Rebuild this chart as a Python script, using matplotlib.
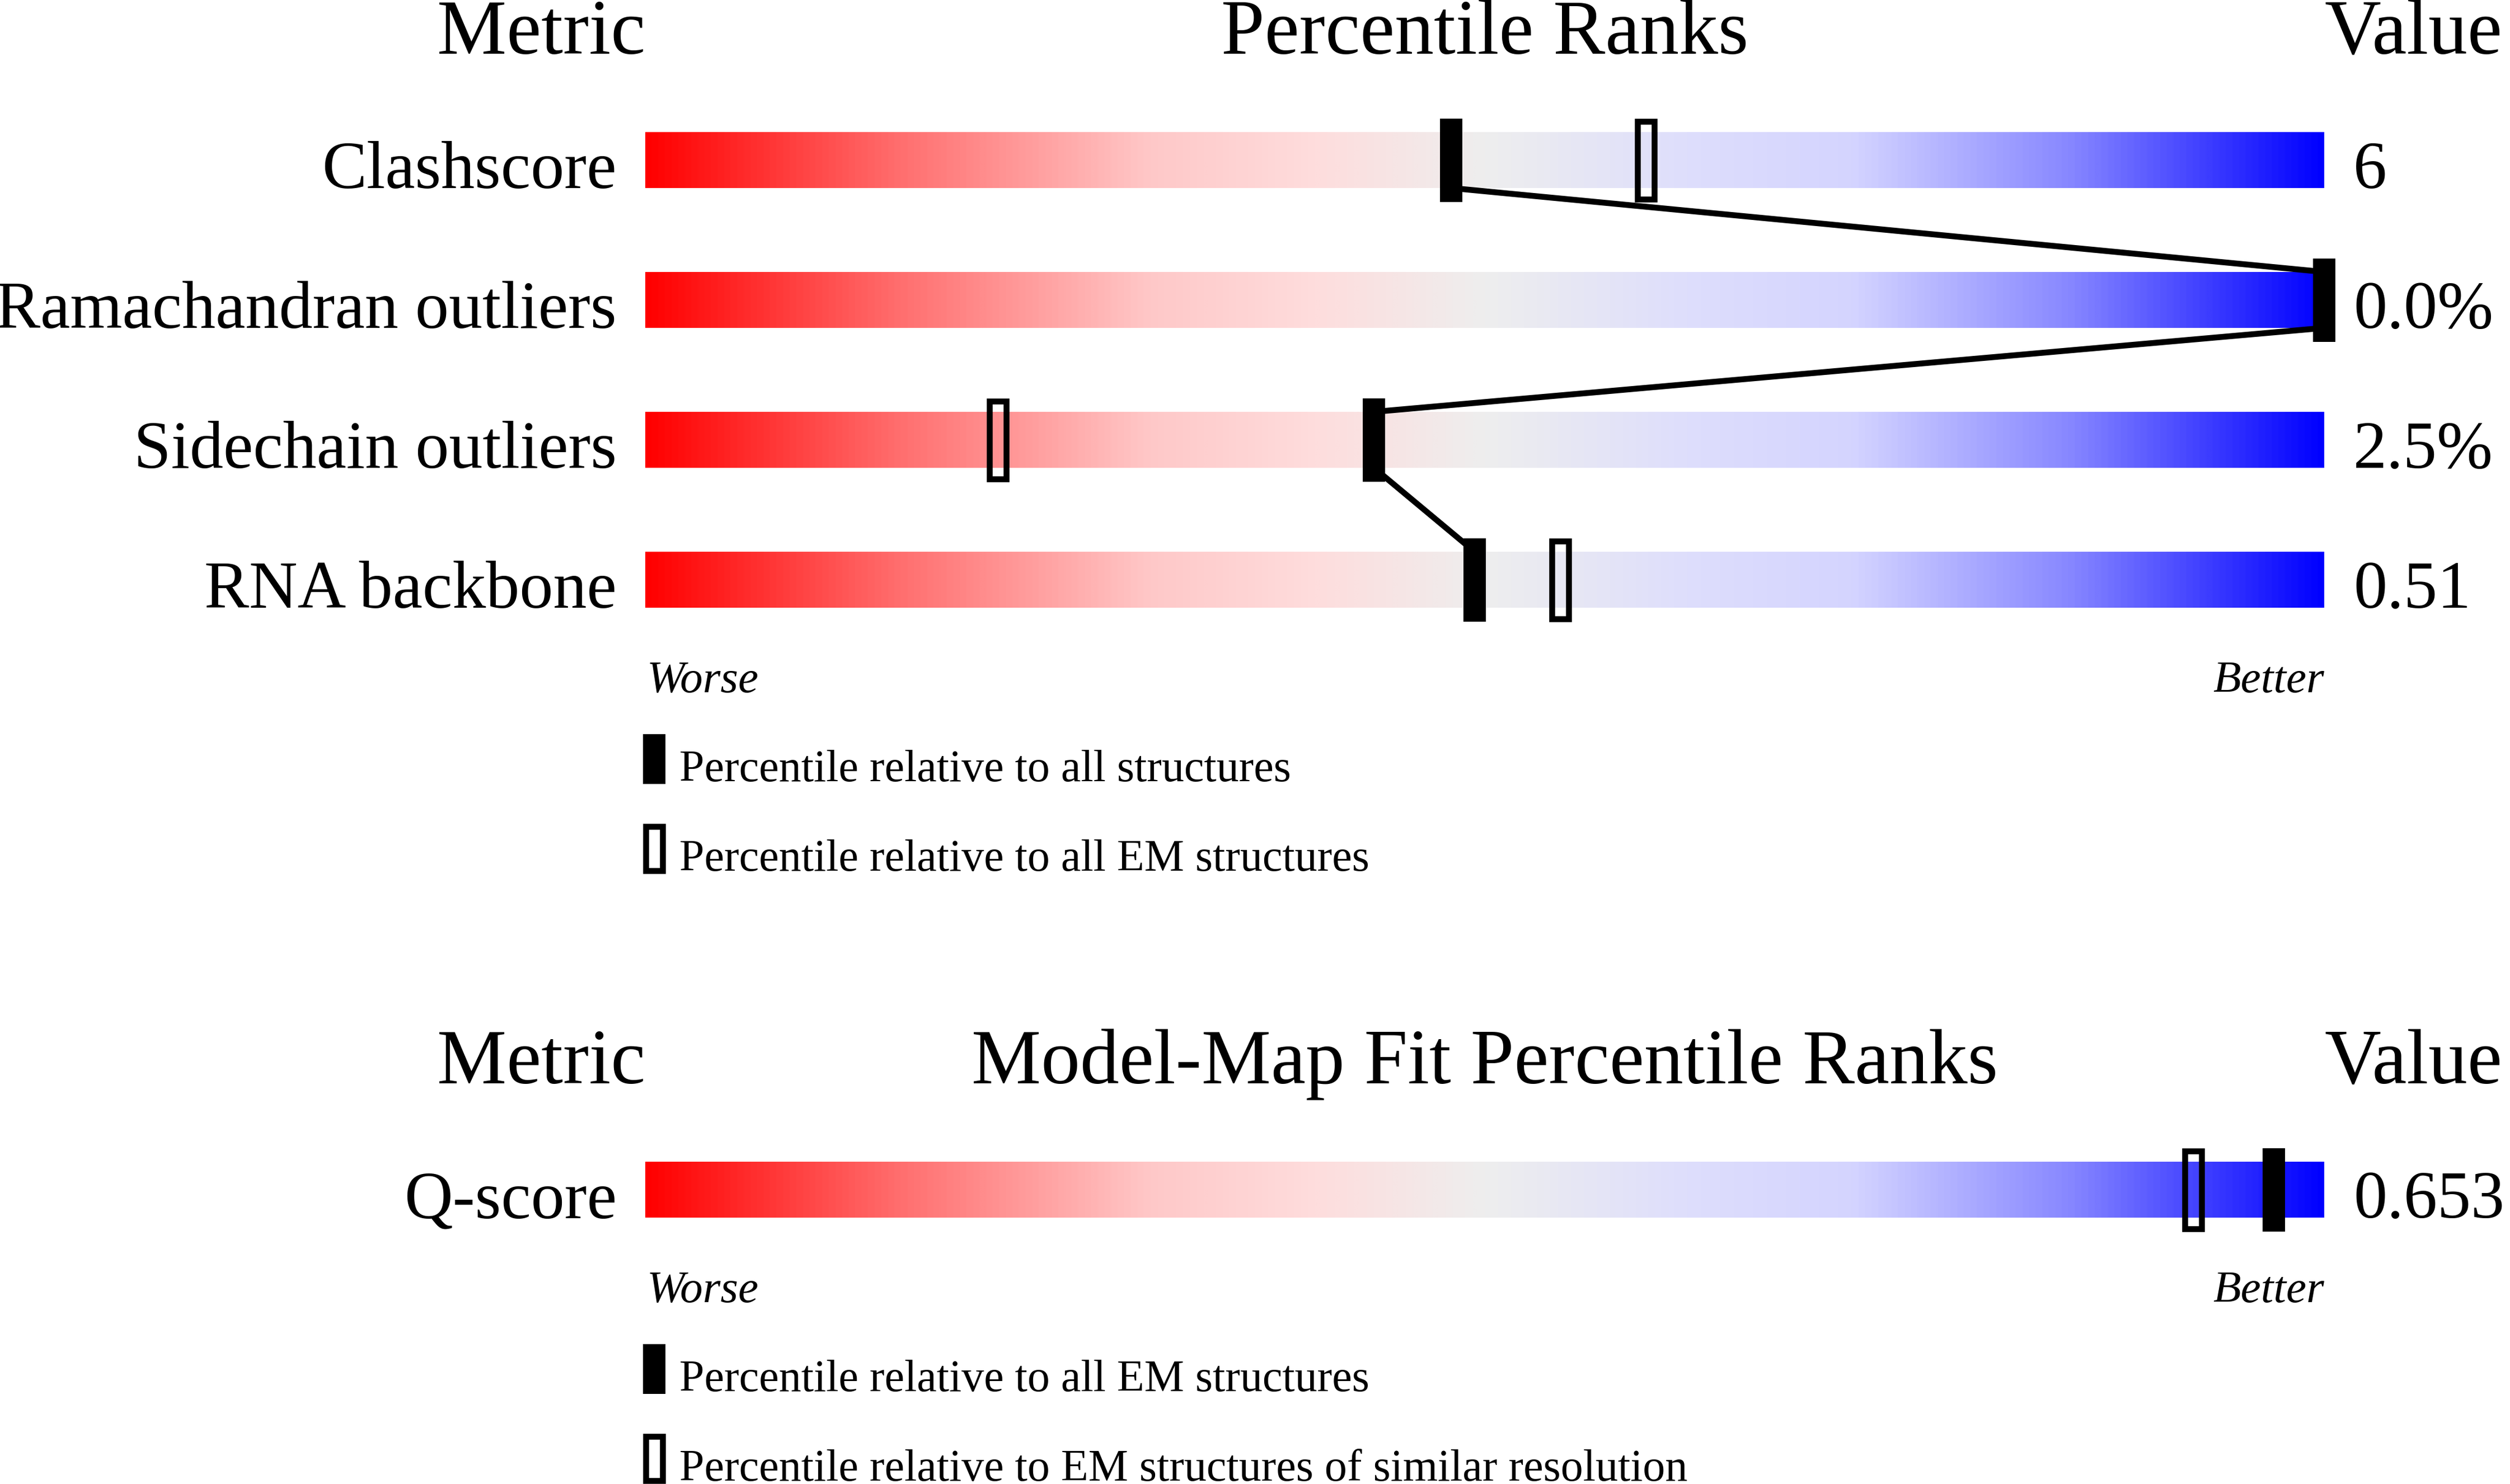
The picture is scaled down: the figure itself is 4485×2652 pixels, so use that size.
import numpy as np
import matplotlib
matplotlib.use("Agg")
import matplotlib.pyplot as plt
from matplotlib.colors import LinearSegmentedColormap
from matplotlib.patches import Rectangle

# data
metrics = ["Clashscore", "Ramachandran outliers", "Sidechain outliers", "RNA backbone"]
values = ["6", "0.0%", "2.5%", "0.51"]
pct_all = [48, 100, 43.4, 49.4]          # black marker
pct_em = [59.6, None, 21, 54.5]          # hollow marker

fit_metrics = ["Q-score"]
fit_values = ["0.653"]
fit_pct_all_em = [97]                    # black marker
fit_pct_similar = [92.2]                 # hollow marker

legend_top = ["Percentile relative to all structures",
              "Percentile relative to all EM structures"]
legend_bottom = ["Percentile relative to all EM structures",
                 "Percentile relative to EM structures of similar resolution"]

# layout (pixels of the 4485x2652 canvas, bar runs 1153..4153)
W, H = 4485, 2652
X0, SCALE = 1153, 30.0
BAR_H = 100
MARK_W, MARK_H = 40 / SCALE, 149
LW = 10.5 * 72 / 300  # ~10 px in points

plt.rcParams['font.family'] = ['Liberation Serif', 'DejaVu Serif']

cmap = LinearSegmentedColormap.from_list("rank", [
    (0.00, (1.0, 0.0, 0.0)),
    (0.15, (1.0, 110/255, 110/255)),
    (0.30, (1.0, 200/255, 200/255)),
    (0.40, (254/255, 221/255, 221/255)),
    (0.50, (238/255, 238/255, 238/255)),
    (0.62, (222/255, 222/255, 252/255)),
    (0.72, (212/255, 212/255, 255/255)),
    (0.85, (135/255, 135/255, 255/255)),
    (1.00, (0.0, 0.0, 1.0)),
])

fig = plt.figure(figsize=(W / 300, H / 300), dpi=300)
ax = fig.add_axes([0, 0, 1, 1])
ax.set_xlim(-X0 / SCALE, (W - X0) / SCALE)
ax.set_ylim(H, 0)
ax.axis("off")

grad = np.linspace(0, 1, 1024).reshape(1, -1)


def draw_bar(cy):
    ax.imshow(grad, cmap=cmap, aspect="auto", interpolation="bilinear",
              extent=(0, 100, cy + BAR_H / 2, cy - BAR_H / 2), zorder=1)


def black_marker(p, cy):
    ax.add_patch(Rectangle((p - MARK_W / 2, cy - MARK_H / 2), MARK_W, MARK_H,
                           facecolor="black", edgecolor="none", zorder=4))


def hollow_marker(p, cy):
    b = 10
    ax.add_patch(Rectangle((p - (MARK_W - b / SCALE) / 2, cy - (MARK_H - b) / 2),
                           MARK_W - b / SCALE, MARK_H - b,
                           fill=False, edgecolor="black", linewidth=LW, zorder=4))


def headers(base, title):
    ax.text(0, base, "Metric", ha="right", va="baseline", fontsize=33.5)
    ax.text(50, base, title, ha="center", va="baseline", fontsize=33.5)
    ax.text(100, base, "Value", ha="left", va="baseline", fontsize=33.5)


def panel_text(label, value, cy):
    ax.text(-51 / SCALE, cy + BAR_H / 2, label, ha="right", va="baseline", fontsize=28.8)
    ax.text(100 + 52 / SCALE, cy + BAR_H / 2, value, ha="left", va="baseline", fontsize=28.8)


def worse_better(bottom):
    ax.text(0.1, bottom + 151, "Worse", ha="left", va="baseline", fontsize=19.5, style="italic")
    ax.text(100, bottom + 151, "Better", ha="right", va="baseline", fontsize=19.5, style="italic")


def legend(bottom, texts):
    for k, t in enumerate(texts):
        top = bottom + 226 + 160 * k
        if k == 0:
            ax.add_patch(Rectangle((-4 / SCALE, top), MARK_W, 89,
                                   facecolor="black", edgecolor="none"))
        else:
            ax.add_patch(Rectangle((1 / SCALE, top + 5), MARK_W - 10 / SCALE, 79,
                                   fill=False, edgecolor="black", linewidth=LW))
        ax.text(61 / SCALE, top + 84, t, ha="left", va="baseline", fontsize=19.2)


# top panel
headers(96, "Percentile Ranks")
centers = [286 + 250 * i for i in range(len(metrics))]
for i, cy in enumerate(centers):
    draw_bar(cy)
    panel_text(metrics[i], values[i], cy)
    black_marker(pct_all[i], cy)
    if pct_em[i] is not None:
        hollow_marker(pct_em[i], cy)
for i in range(len(centers) - 1):
    ax.plot([pct_all[i], pct_all[i + 1]],
            [centers[i] + BAR_H / 2, centers[i + 1] - BAR_H / 2],
            color="black", linewidth=LW, solid_capstyle="butt", zorder=3)
worse_better(centers[-1] + BAR_H / 2)
legend(centers[-1] + BAR_H / 2, legend_top)

# bottom panel
headers(1936, "Model-Map Fit Percentile Ranks")
cy = 2126
draw_bar(cy)
panel_text(fit_metrics[0], fit_values[0], cy)
hollow_marker(fit_pct_similar[0], cy)
black_marker(fit_pct_all_em[0], cy)
worse_better(cy + BAR_H / 2)
legend(cy + BAR_H / 2, legend_bottom)

fig.savefig("out.png", dpi=300, facecolor="white")
